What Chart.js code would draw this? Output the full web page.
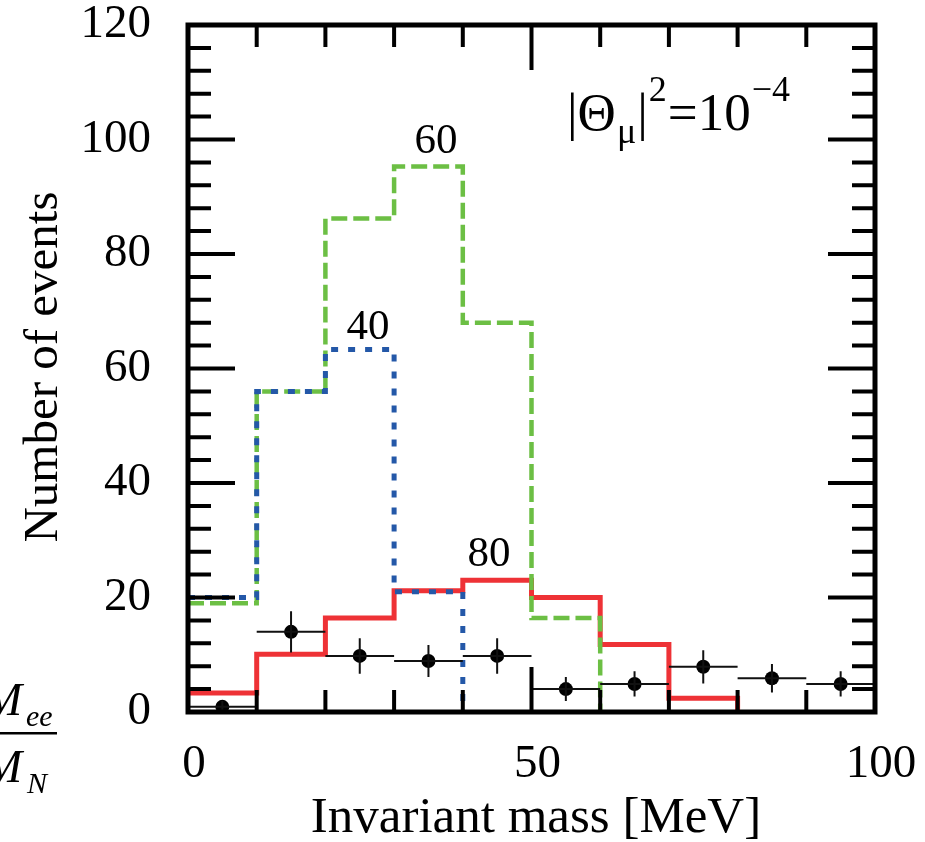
<!DOCTYPE html>
<html>
<head>
<meta charset="utf-8">
<script src="https://cdn.jsdelivr.net/npm/chart.js@4.4.1/dist/chart.umd.min.js"></script>
<style>
  html, body { margin: 0; padding: 0; background: #fff; }
  #box { width: 925px; height: 842px; }
</style>
</head>
<body>
<div id="box"><canvas id="grafico"></canvas></div>
<script>
const binEdges = [0, 10, 20, 30, 40, 50, 60, 70, 80, 90, 100]
const mass40 = [20, 56, 63.3, 21]
const mass60 = [19, 56, 86.2, 95.3, 68, 16.4]
const mass80 = [3.3, 10.1, 16.4, 21.2, 23, 20, 11.8, 2.4]
const dataX = [5, 15, 25, 35, 45, 55, 65, 75, 85, 95]
const dataY = [0.9, 14, 9.8, 8.9, 9.8, 4, 4.9, 7.9, 5.9, 4.9]
const dataErr = [1, 3.6, 3.1, 2.8, 3.1, 2.1, 2.2, 2.9, 2.5, 2.2]
const binHalf = 5
const curveLabels = ['40', '60', '80']
const curveLabelX = [26.2, 36.1, 43.8]
const curveLabelY = [67.2, 99.6, 27.4]

const serif = "'Liberation Serif', 'Times New Roman', serif"

function degraus(valores) {
    const pts = valores.map((v, i) => ({ x: binEdges[i], y: v }))
    pts.push({ x: binEdges[valores.length], y: 0 })
    return pts
}

function semPadding(s) {
    s.paddingTop = 0
    s.paddingBottom = 0
    s.paddingLeft = 0
    s.paddingRight = 0
}

const molduraPlugin = {
    id: 'moldura',
    afterDatasetsDraw(chart) {
        const ctx = chart.ctx
        const a = chart.chartArea
        const xs = chart.scales.x
        const ys = chart.scales.y

        // barras de erro
        ctx.save()
        ctx.strokeStyle = '#111'
        ctx.lineWidth = 2
        dataX.forEach((x, i) => {
            const px = xs.getPixelForValue(x)
            const py = ys.getPixelForValue(dataY[i])
            ctx.beginPath()
            ctx.moveTo(xs.getPixelForValue(x - binHalf), py)
            ctx.lineTo(xs.getPixelForValue(x + binHalf), py)
            ctx.moveTo(px, ys.getPixelForValue(dataY[i] - dataErr[i]))
            ctx.lineTo(px, ys.getPixelForValue(dataY[i] + dataErr[i]))
            ctx.stroke()
        })
        ctx.restore()

        // marcas e moldura
        ctx.save()
        ctx.strokeStyle = '#000'
        ctx.lineWidth = 4
        ctx.beginPath()
        for (let v = 4; v < 120; v += 4) {
            const py = ys.getPixelForValue(v)
            const len = v % 20 === 0 ? 47 : 23
            ctx.moveTo(a.left, py)
            ctx.lineTo(a.left + len, py)
            ctx.moveTo(a.right, py)
            ctx.lineTo(a.right - len, py)
        }
        for (let v = 10; v < 100; v += 10) {
            const px = xs.getPixelForValue(v)
            const len = v % 50 === 0 ? 45 : 22
            ctx.moveTo(px, a.bottom)
            ctx.lineTo(px, a.bottom - len)
            ctx.moveTo(px, a.top)
            ctx.lineTo(px, a.top + len)
        }
        ctx.stroke()
        ctx.lineWidth = 5
        ctx.strokeRect(a.left, a.top, a.right - a.left, a.bottom - a.top)
        ctx.restore()
    },
    afterDraw(chart) {
        const ctx = chart.ctx
        const xs = chart.scales.x
        const ys = chart.scales.y
        ctx.save()
        ctx.fillStyle = '#000'

        // rótulos das curvas
        ctx.font = '43px ' + serif
        ctx.textAlign = 'center'
        ctx.textBaseline = 'middle'
        curveLabels.forEach((t, i) => {
            ctx.fillText(t, xs.getPixelForValue(curveLabelX[i]), ys.getPixelForValue(curveLabelY[i]))
        })

        // títulos dos eixos
        ctx.font = '51px ' + serif
        ctx.textBaseline = 'alphabetic'
        ctx.fillText('Invariant mass [MeV]', 536, 832)
        ctx.save()
        ctx.translate(57, 367)
        ctx.rotate(-Math.PI / 2)
        ctx.font = '49px ' + serif
        ctx.fillText('Number of events', 0, 0)
        ctx.restore()

        // |Θμ|²=10⁻⁴
        ctx.textAlign = 'left'
        let x = 567
        const base = 130
        const big = '53px ' + serif
        const small = '36px ' + serif
        const partes = [
            ['|Θ', big, 0],
            ['μ', small, 13],
            ['|', big, 0],
            ['2', small, -29],
            ['=10', big, 0],
            ['−4', small, -29]
        ]
        partes.forEach(([t, f, dy]) => {
            ctx.font = f
            ctx.fillText(t, x, base + dy)
            x += ctx.measureText(t).width + 1
        })

        // fração cortada na borda esquerda
        ctx.font = 'italic 46px ' + serif
        ctx.textAlign = 'right'
        ctx.fillText('M', 22, 715)
        ctx.fillText('M', 22, 782)
        ctx.font = 'italic 30px ' + serif
        ctx.textAlign = 'left'
        ctx.fillText('ee', 26, 726)
        ctx.fillText('N', 27, 793)
        ctx.fillRect(0, 732, 57, 2.5)
        ctx.restore()
    }
}

const graficoMassa = document.getElementById('grafico')

new Chart(graficoMassa, {
    type: 'line',
    data: {
        datasets: [
            {
                label: 'Data',
                data: dataX.map((x, i) => ({ x: x, y: dataY[i] })),
                showLine: false,
                pointRadius: 7,
                pointBackgroundColor: '#000',
                pointBorderWidth: 0
            },
            {
                label: '40',
                data: degraus(mass40),
                stepped: 'before',
                borderColor: '#2458a8',
                borderWidth: 5,
                borderDash: [7, 10],
                pointRadius: 0,
                fill: false
            },
            {
                label: '60',
                data: degraus(mass60),
                stepped: 'before',
                borderColor: '#6cbf44',
                borderWidth: 4.5,
                borderDash: [16, 6],
                pointRadius: 0,
                fill: false
            },
            {
                label: '80',
                data: degraus(mass80),
                stepped: 'before',
                borderColor: '#ee3236',
                borderWidth: 5,
                pointRadius: 0,
                fill: false
            }
        ]
    },
    options: {
        responsive: true,
        maintainAspectRatio: false,
        animation: false,
        layout: { padding: { left: 0, top: 25, right: 50, bottom: 0 } },
        plugins: {
            legend: { display: false },
            tooltip: { enabled: false }
        },
        scales: {
            x: {
                type: 'linear',
                min: 0,
                max: 100,
                grid: { display: false, drawTicks: false },
                border: { display: false },
                ticks: {
                    stepSize: 50,
                    maxRotation: 0,
                    padding: 29,
                    labelOffset: 6,
                    color: '#000',
                    font: { family: serif, size: 47, lineHeight: 1 }
                },
                afterFit: (s) => { s.height = 130; semPadding(s) }
            },
            y: {
                min: 0,
                max: 120,
                grid: { display: false, drawTicks: false },
                border: { display: false },
                ticks: {
                    stepSize: 20,
                    padding: 37,
                    color: '#000',
                    font: { family: serif, size: 47, lineHeight: 1 }
                },
                afterFit: (s) => { s.width = 188; semPadding(s) }
            }
        }
    },
    plugins: [molduraPlugin]
})
</script>
</body>
</html>
